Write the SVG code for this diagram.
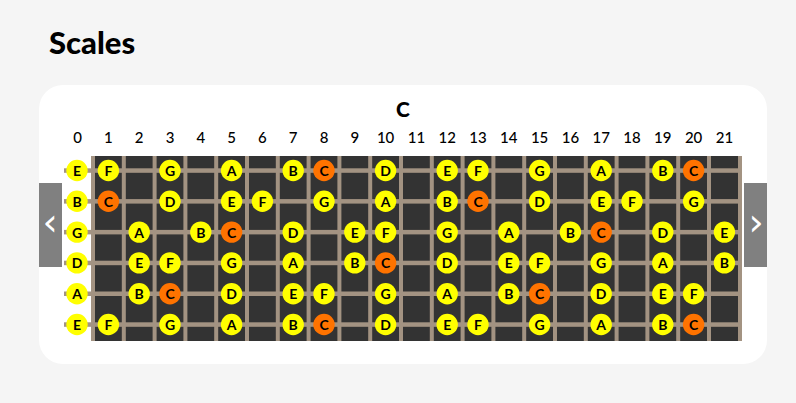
<svg xmlns="http://www.w3.org/2000/svg" width="796" height="403" viewBox="0 0 796 403">
<style>
.bg{fill:#f5f5f5}
.card{fill:#ffffff}
.board{fill:#333333}
.wire{fill:#a39382}
.nav{fill:#808080}
.chev{fill:#ffffff;font-family:"DejaVu Sans",sans-serif;font-size:38px;font-weight:normal;text-anchor:middle}
.title{font-family:"Lato","Noto Sans",sans-serif;font-weight:900;font-size:31px;fill:#000}
.key{font-family:"Lato","Noto Sans",sans-serif;font-weight:900;font-size:21px;fill:#000;text-anchor:middle}
.fn{font-family:"Lato","Noto Sans",sans-serif;font-weight:500;font-size:15px;fill:#000;text-anchor:middle}
.n circle{fill:#ffff00}
.n.r circle{fill:#ff7300}
.n text{font-family:"Lato","Noto Sans",sans-serif;font-weight:700;font-size:14px;fill:#000;text-anchor:middle;dominant-baseline:central}
</style>
<rect class="bg" x="0" y="0" width="796" height="403"/>
<text class="title" x="49" y="54">Scales</text>
<rect class="card" x="39" y="85" width="728" height="279" rx="24" ry="24"/>
<text class="key" x="403" y="116.5">C</text>
<g id="fret-numbers">
<text class="fn" x="77.6" y="143">0</text><text class="fn" x="108.4" y="143">1</text><text class="fn" x="139.2" y="143">2</text><text class="fn" x="170" y="143">3</text><text class="fn" x="200.8" y="143">4</text><text class="fn" x="231.6" y="143">5</text><text class="fn" x="262.4" y="143">6</text><text class="fn" x="293.2" y="143">7</text><text class="fn" x="324" y="143">8</text><text class="fn" x="354.8" y="143">9</text><text class="fn" x="385.6" y="143">10</text><text class="fn" x="416.4" y="143">11</text><text class="fn" x="447.2" y="143">12</text><text class="fn" x="478" y="143">13</text><text class="fn" x="508.8" y="143">14</text><text class="fn" x="539.6" y="143">15</text><text class="fn" x="570.4" y="143">16</text><text class="fn" x="601.2" y="143">17</text><text class="fn" x="632" y="143">18</text><text class="fn" x="662.8" y="143">19</text><text class="fn" x="693.6" y="143">20</text><text class="fn" x="724.4" y="143">21</text>
</g>
<g id="fretboard">
<rect class="board" x="91" y="156" width="651" height="185"/>
<rect class="wire" x="91" y="156" width="4" height="185"/><rect class="wire" x="121.8" y="156" width="4" height="185"/><rect class="wire" x="152.6" y="156" width="4" height="185"/><rect class="wire" x="183.4" y="156" width="4" height="185"/><rect class="wire" x="214.2" y="156" width="4" height="185"/><rect class="wire" x="245" y="156" width="4" height="185"/><rect class="wire" x="275.8" y="156" width="4" height="185"/><rect class="wire" x="306.6" y="156" width="4" height="185"/><rect class="wire" x="337.4" y="156" width="4" height="185"/><rect class="wire" x="368.2" y="156" width="4" height="185"/><rect class="wire" x="399" y="156" width="4" height="185"/><rect class="wire" x="429.8" y="156" width="4" height="185"/><rect class="wire" x="460.6" y="156" width="4" height="185"/><rect class="wire" x="491.4" y="156" width="4" height="185"/><rect class="wire" x="522.2" y="156" width="4" height="185"/><rect class="wire" x="553" y="156" width="4" height="185"/><rect class="wire" x="583.8" y="156" width="4" height="185"/><rect class="wire" x="614.6" y="156" width="4" height="185"/><rect class="wire" x="645.4" y="156" width="4" height="185"/><rect class="wire" x="676.2" y="156" width="4" height="185"/><rect class="wire" x="707" y="156" width="4" height="185"/><rect class="wire" x="738" y="156" width="4" height="185"/>
<rect class="wire" x="64" y="168.3" width="678" height="4.5"/><rect class="wire" x="64" y="199.1" width="678" height="4.5"/><rect class="wire" x="64" y="229.9" width="678" height="4.5"/><rect class="wire" x="64" y="260.7" width="678" height="4.5"/><rect class="wire" x="64" y="291.5" width="678" height="4.5"/><rect class="wire" x="64" y="322.3" width="678" height="4.5"/>
</g>
<g id="nav-prev"><rect class="nav" x="39" y="183" width="23" height="84"/><text class="chev" x="50" y="235">‹</text></g>
<g id="nav-next"><rect class="nav" x="744" y="183" width="23" height="84"/><text class="chev" x="756" y="235">›</text></g>
<g id="notes">
<g id="s1-f0" class="n" transform="translate(77,170.5)"><circle r="10.7"/><text>E</text></g>
<g id="s1-f1" class="n" transform="translate(108.4,170.5)"><circle r="10.7"/><text>F</text></g>
<g id="s1-f3" class="n" transform="translate(170,170.5)"><circle r="10.7"/><text>G</text></g>
<g id="s1-f5" class="n" transform="translate(231.6,170.5)"><circle r="10.7"/><text>A</text></g>
<g id="s1-f7" class="n" transform="translate(293.2,170.5)"><circle r="10.7"/><text>B</text></g>
<g id="s1-f8" class="n r" transform="translate(324,170.5)"><circle r="10.7"/><text>C</text></g>
<g id="s1-f10" class="n" transform="translate(385.6,170.5)"><circle r="10.7"/><text>D</text></g>
<g id="s1-f12" class="n" transform="translate(447.2,170.5)"><circle r="10.7"/><text>E</text></g>
<g id="s1-f13" class="n" transform="translate(478,170.5)"><circle r="10.7"/><text>F</text></g>
<g id="s1-f15" class="n" transform="translate(539.6,170.5)"><circle r="10.7"/><text>G</text></g>
<g id="s1-f17" class="n" transform="translate(601.2,170.5)"><circle r="10.7"/><text>A</text></g>
<g id="s1-f19" class="n" transform="translate(662.8,170.5)"><circle r="10.7"/><text>B</text></g>
<g id="s1-f20" class="n r" transform="translate(693.6,170.5)"><circle r="10.7"/><text>C</text></g>

<g id="s2-f0" class="n" transform="translate(77,201.3)"><circle r="10.7"/><text>B</text></g>
<g id="s2-f1" class="n r" transform="translate(108.4,201.3)"><circle r="10.7"/><text>C</text></g>
<g id="s2-f3" class="n" transform="translate(170,201.3)"><circle r="10.7"/><text>D</text></g>
<g id="s2-f5" class="n" transform="translate(231.6,201.3)"><circle r="10.7"/><text>E</text></g>
<g id="s2-f6" class="n" transform="translate(262.4,201.3)"><circle r="10.7"/><text>F</text></g>
<g id="s2-f8" class="n" transform="translate(324,201.3)"><circle r="10.7"/><text>G</text></g>
<g id="s2-f10" class="n" transform="translate(385.6,201.3)"><circle r="10.7"/><text>A</text></g>
<g id="s2-f12" class="n" transform="translate(447.2,201.3)"><circle r="10.7"/><text>B</text></g>
<g id="s2-f13" class="n r" transform="translate(478,201.3)"><circle r="10.7"/><text>C</text></g>
<g id="s2-f15" class="n" transform="translate(539.6,201.3)"><circle r="10.7"/><text>D</text></g>
<g id="s2-f17" class="n" transform="translate(601.2,201.3)"><circle r="10.7"/><text>E</text></g>
<g id="s2-f18" class="n" transform="translate(632,201.3)"><circle r="10.7"/><text>F</text></g>
<g id="s2-f20" class="n" transform="translate(693.6,201.3)"><circle r="10.7"/><text>G</text></g>

<g id="s3-f0" class="n" transform="translate(77,232.1)"><circle r="10.7"/><text>G</text></g>
<g id="s3-f2" class="n" transform="translate(139.2,232.1)"><circle r="10.7"/><text>A</text></g>
<g id="s3-f4" class="n" transform="translate(200.8,232.1)"><circle r="10.7"/><text>B</text></g>
<g id="s3-f5" class="n r" transform="translate(231.6,232.1)"><circle r="10.7"/><text>C</text></g>
<g id="s3-f7" class="n" transform="translate(293.2,232.1)"><circle r="10.7"/><text>D</text></g>
<g id="s3-f9" class="n" transform="translate(354.8,232.1)"><circle r="10.7"/><text>E</text></g>
<g id="s3-f10" class="n" transform="translate(385.6,232.1)"><circle r="10.7"/><text>F</text></g>
<g id="s3-f12" class="n" transform="translate(447.2,232.1)"><circle r="10.7"/><text>G</text></g>
<g id="s3-f14" class="n" transform="translate(508.8,232.1)"><circle r="10.7"/><text>A</text></g>
<g id="s3-f16" class="n" transform="translate(570.4,232.1)"><circle r="10.7"/><text>B</text></g>
<g id="s3-f17" class="n r" transform="translate(601.2,232.1)"><circle r="10.7"/><text>C</text></g>
<g id="s3-f19" class="n" transform="translate(662.8,232.1)"><circle r="10.7"/><text>D</text></g>
<g id="s3-f21" class="n" transform="translate(724.4,232.1)"><circle r="10.7"/><text>E</text></g>

<g id="s4-f0" class="n" transform="translate(77,262.9)"><circle r="10.7"/><text>D</text></g>
<g id="s4-f2" class="n" transform="translate(139.2,262.9)"><circle r="10.7"/><text>E</text></g>
<g id="s4-f3" class="n" transform="translate(170,262.9)"><circle r="10.7"/><text>F</text></g>
<g id="s4-f5" class="n" transform="translate(231.6,262.9)"><circle r="10.7"/><text>G</text></g>
<g id="s4-f7" class="n" transform="translate(293.2,262.9)"><circle r="10.7"/><text>A</text></g>
<g id="s4-f9" class="n" transform="translate(354.8,262.9)"><circle r="10.7"/><text>B</text></g>
<g id="s4-f10" class="n r" transform="translate(385.6,262.9)"><circle r="10.7"/><text>C</text></g>
<g id="s4-f12" class="n" transform="translate(447.2,262.9)"><circle r="10.7"/><text>D</text></g>
<g id="s4-f14" class="n" transform="translate(508.8,262.9)"><circle r="10.7"/><text>E</text></g>
<g id="s4-f15" class="n" transform="translate(539.6,262.9)"><circle r="10.7"/><text>F</text></g>
<g id="s4-f17" class="n" transform="translate(601.2,262.9)"><circle r="10.7"/><text>G</text></g>
<g id="s4-f19" class="n" transform="translate(662.8,262.9)"><circle r="10.7"/><text>A</text></g>
<g id="s4-f21" class="n" transform="translate(724.4,262.9)"><circle r="10.7"/><text>B</text></g>

<g id="s5-f0" class="n" transform="translate(77,293.7)"><circle r="10.7"/><text>A</text></g>
<g id="s5-f2" class="n" transform="translate(139.2,293.7)"><circle r="10.7"/><text>B</text></g>
<g id="s5-f3" class="n r" transform="translate(170,293.7)"><circle r="10.7"/><text>C</text></g>
<g id="s5-f5" class="n" transform="translate(231.6,293.7)"><circle r="10.7"/><text>D</text></g>
<g id="s5-f7" class="n" transform="translate(293.2,293.7)"><circle r="10.7"/><text>E</text></g>
<g id="s5-f8" class="n" transform="translate(324,293.7)"><circle r="10.7"/><text>F</text></g>
<g id="s5-f10" class="n" transform="translate(385.6,293.7)"><circle r="10.7"/><text>G</text></g>
<g id="s5-f12" class="n" transform="translate(447.2,293.7)"><circle r="10.7"/><text>A</text></g>
<g id="s5-f14" class="n" transform="translate(508.8,293.7)"><circle r="10.7"/><text>B</text></g>
<g id="s5-f15" class="n r" transform="translate(539.6,293.7)"><circle r="10.7"/><text>C</text></g>
<g id="s5-f17" class="n" transform="translate(601.2,293.7)"><circle r="10.7"/><text>D</text></g>
<g id="s5-f19" class="n" transform="translate(662.8,293.7)"><circle r="10.7"/><text>E</text></g>
<g id="s5-f20" class="n" transform="translate(693.6,293.7)"><circle r="10.7"/><text>F</text></g>

<g id="s6-f0" class="n" transform="translate(77,324.5)"><circle r="10.7"/><text>E</text></g>
<g id="s6-f1" class="n" transform="translate(108.4,324.5)"><circle r="10.7"/><text>F</text></g>
<g id="s6-f3" class="n" transform="translate(170,324.5)"><circle r="10.7"/><text>G</text></g>
<g id="s6-f5" class="n" transform="translate(231.6,324.5)"><circle r="10.7"/><text>A</text></g>
<g id="s6-f7" class="n" transform="translate(293.2,324.5)"><circle r="10.7"/><text>B</text></g>
<g id="s6-f8" class="n r" transform="translate(324,324.5)"><circle r="10.7"/><text>C</text></g>
<g id="s6-f10" class="n" transform="translate(385.6,324.5)"><circle r="10.7"/><text>D</text></g>
<g id="s6-f12" class="n" transform="translate(447.2,324.5)"><circle r="10.7"/><text>E</text></g>
<g id="s6-f13" class="n" transform="translate(478,324.5)"><circle r="10.7"/><text>F</text></g>
<g id="s6-f15" class="n" transform="translate(539.6,324.5)"><circle r="10.7"/><text>G</text></g>
<g id="s6-f17" class="n" transform="translate(601.2,324.5)"><circle r="10.7"/><text>A</text></g>
<g id="s6-f19" class="n" transform="translate(662.8,324.5)"><circle r="10.7"/><text>B</text></g>
<g id="s6-f20" class="n r" transform="translate(693.6,324.5)"><circle r="10.7"/><text>C</text></g>
</g>
</svg>
